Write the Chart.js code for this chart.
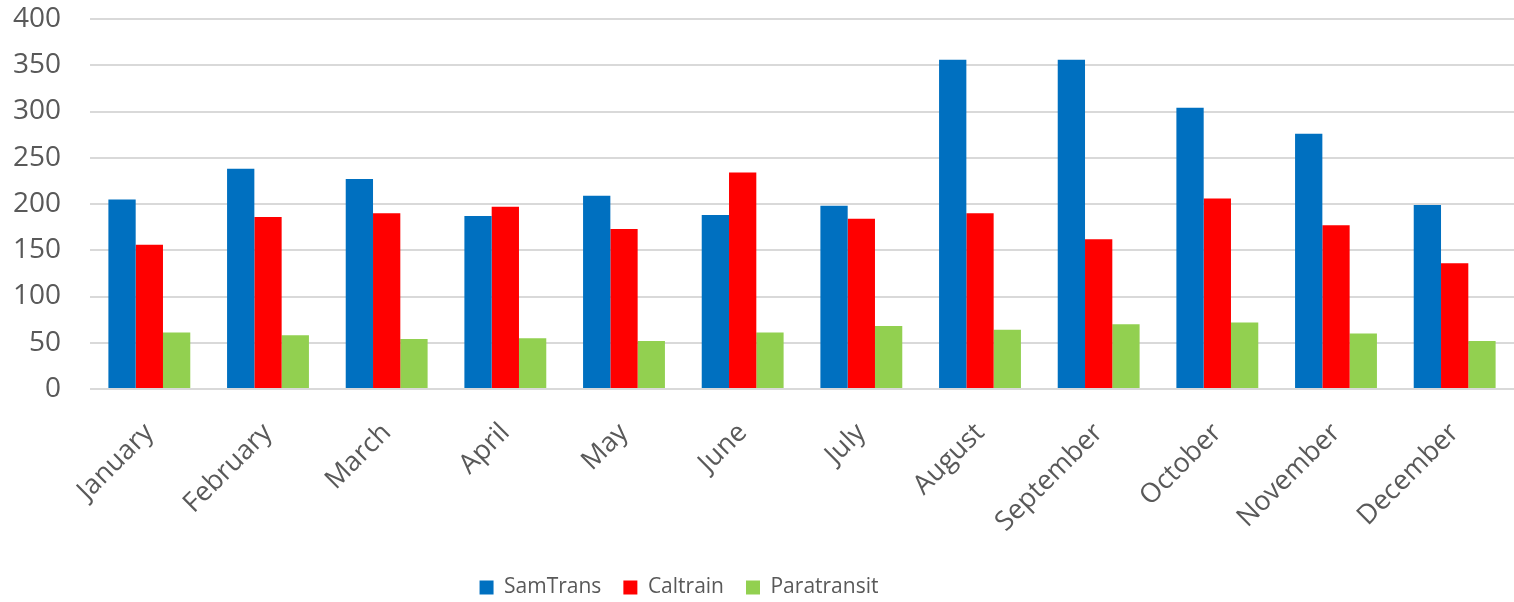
<!DOCTYPE html>
<html>
<head>
<meta charset="utf-8">
<script src="https://cdn.jsdelivr.net/npm/chart.js@4.4.1/dist/chart.umd.min.js"></script>
<style>
  html, body { margin: 0; padding: 0; background: #fff; }
  #wrap { width: 1514px; height: 602px; }
</style>
</head>
<body>
<div id="wrap"><canvas id="c" width="1514" height="602"></canvas></div>
<script>
const categories = ["January","February","March","April","May","June","July","August","September","October","November","December"];
const samTrans    = [205, 238, 227, 187, 209, 188, 198, 356, 356, 304, 276, 199];
const caltrain    = [156, 186, 190, 197, 173, 234, 184, 190, 162, 206, 177, 136];
const paratransit = [61, 58, 54, 55, 52, 61, 68, 64, 70, 72, 60, 52];
const yTicks = [0, 50, 100, 150, 200, 250, 300, 350, 400];

const FONT = "'Open Sans', 'Noto Sans', sans-serif";

const legendShift = {
  id: 'legendShift',
  afterLayout(chart) {
    const lg = chart.legend;
    if (lg) { lg.left -= 78; lg.right -= 78; }
  }
};

new Chart(document.getElementById('c'), {
  type: 'bar',
  data: {
    labels: categories,
    datasets: [
      { label: 'SamTrans', data: samTrans, backgroundColor: '#0070c0' },
      { label: 'Caltrain', data: caltrain, backgroundColor: '#ff0000' },
      { label: 'Paratransit', data: paratransit, backgroundColor: '#92d050' }
    ]
  },
  plugins: [legendShift],
  options: {
    responsive: false,
    animation: false,
    devicePixelRatio: 1,
    layout: { padding: { top: 0, left: 0, right: 0, bottom: -6 } },
    datasets: { bar: { categoryPercentage: 0.69, barPercentage: 1.0 } },
    scales: {
      x: {
        grid: { display: false },
        border: { display: false },
        ticks: {
          minRotation: 45, maxRotation: 45,
          padding: 20,
          color: '#595959',
          font: { family: FONT, size: 27 }
        },
        afterFit: (s) => { s.height = 166; }
      },
      y: {
        min: 0, max: 400,
        afterBuildTicks: (s) => { s.ticks = yTicks.map(v => ({ value: v })); },
        grid: { color: '#d9d9d9', lineWidth: 2, drawTicks: false },
        border: { display: false },
        ticks: {
          padding: 29,
          color: '#595959',
          font: { family: FONT, size: 28 }
        },
        afterFit: (s) => { s.width = 90; s.paddingTop = 19; s.paddingBottom = 17; }
      }
    },
    plugins: {
      legend: {
        position: 'bottom',
        labels: {
          boxWidth: 14, boxHeight: 14,
          padding: 22,
          color: '#595959',
          font: { family: FONT, size: 21 }
        }
      },
      tooltip: { enabled: false }
    }
  }
});
</script>
</body>
</html>
